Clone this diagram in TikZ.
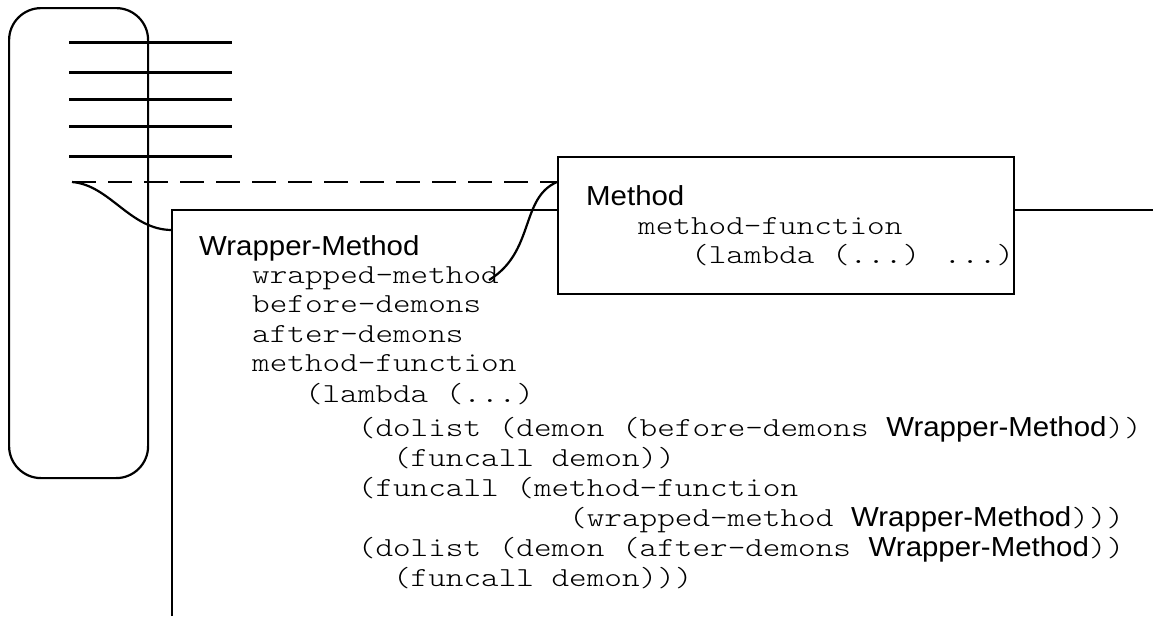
\documentclass[tikz,border=0pt]{standalone}
\usepackage{fontspec}
\usetikzlibrary{calc}
\newfontfamily\sansf{Liberation Sans}[FakeStretch=1.07]
\newfontfamily\monof{lmmonolt10-regular.otf}[FakeStretch=1.22]
\newcommand\WMname{{\sansf Wrapper-Method}}
\tikzset{
  codetext/.style={anchor=base west, inner sep=0pt, font=\fontsize{27.5}{30}\monof},
  sanstext/.style={anchor=base west, inner sep=0pt, font=\fontsize{27.5}{30}\sansf},
  boxline/.style={line width=2.2pt},
  slotrule/.style={line width=3pt},
  dashline/.style={line width=2.6pt, dash pattern=on 24pt off 12pt},
}
\begin{document}
\begin{tikzpicture}[x=1pt,y=-1pt]
\useasboundingbox (0,0) rectangle (1153,616);
% object (rounded rectangle)
\node[draw, boxline, rounded corners=32pt, minimum width=139pt, minimum height=470pt,
      anchor=north west, inner sep=0pt] (obj) at (8,7) {};
% slot lines
\foreach \yy in {42,72,99,126,156} \draw[slotrule] (69,\yy) -- (232,\yy);
\coordinate (slot) at (72,182);
% wrapper box (open to the right and bottom)
\coordinate (wtl) at (172,210);
\coordinate (wbl) at (172,616);
\coordinate (wtr) at (1153,210);
\draw[boxline] (wbl) -- (wtl) -- (wtr);
% method box
\node[draw, boxline, fill=white, minimum width=456pt, minimum height=137pt,
      anchor=north west, inner sep=0pt] (method) at (557,156) {};
\coordinate (mlink) at (method.west |- slot);
\coordinate (wlink) at (172,230);
% connectors
\draw[dashline] (slot) -- (mlink);
\draw[boxline] (slot) .. controls (110,185) and (130,230) .. (wlink);
% method text
\node[sanstext] (mtitle) at (586,205.5) {Method};
\node[codetext] (mf) at (638,234) {method-function};
\node[codetext] (ml) at (691,263) {(lambda (...) ...)};
% wrapper text
\node[sanstext] (wtitle) at (199,255) {Wrapper-Method};
\node[codetext] (wm) at (252,283) {wrapped-method};
\node[codetext] (bd) at (252,312.5) {before-demons};
\node[codetext] (ad) at (252,342) {after-demons};
\node[codetext] (mfn) at (252,371.5) {method-function};
\node[codetext] (lam) at (304.8,402) {(lambda (...)};
\node[codetext] (dl1) at (357.7,436.5) {(dolist (demon (before-demons \WMname))};
\node[codetext] (fc1) at (392.9,466.5) {(funcall demon))};
\node[codetext] (fc2) at (357.7,496.5) {(funcall (method-function};
\node[codetext] (wrm) at (569,526) {(wrapped-method \WMname)))};
\node[codetext] (dl2) at (357.7,556.5) {(dolist (demon (after-demons \WMname))};
\node[codetext] (fc3) at (392.9,586.5) {(funcall demon)))};
% link from wrapped-method slot to method box
\draw[boxline] ($(wm.base east)+(-10,-3)$) .. controls (535,252) and (520,198) .. (mlink);
\end{tikzpicture}
\end{document}
